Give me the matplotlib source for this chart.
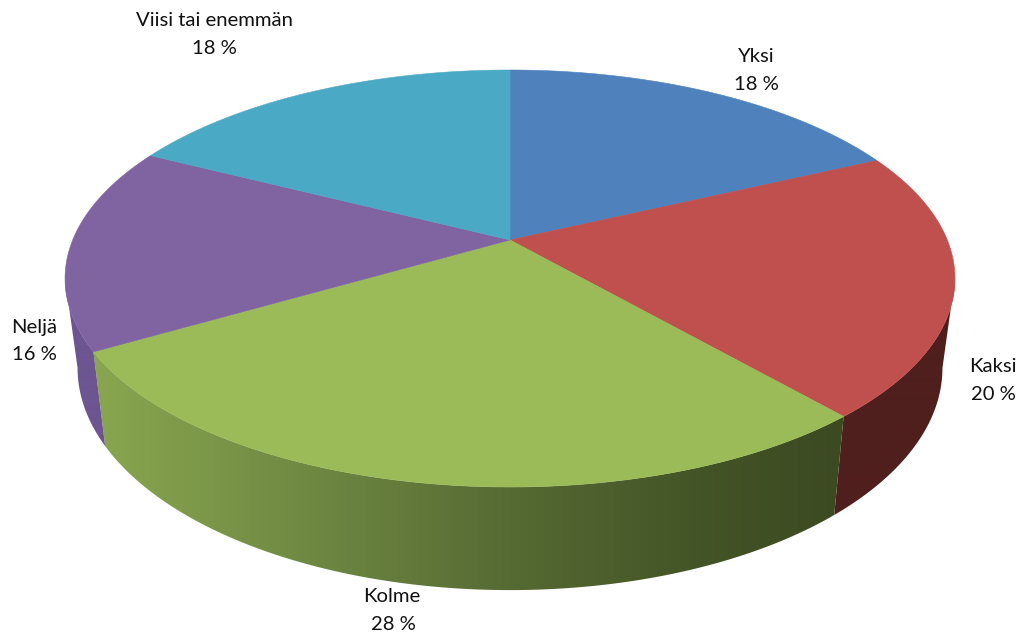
import matplotlib
matplotlib.use("Agg")
import matplotlib.pyplot as plt
import numpy as np
from matplotlib.patches import Polygon

# slice sizes, clockwise from 12 o'clock (shown labels are rounded)
categories = ["Yksi", "Kaksi", "Kolme", "Neljä", "Viisi tai enemmän"]
values = [18.0, 20.6, 28.0, 15.9, 17.5]
percent_labels = ["18 %", "20 %", "28 %", "16 %", "18 %"]

top_colors = ["#4f81bd", "#c0504d", "#9bbb59", "#8064a2", "#4aa9c4"]
# side shading per slice, left to right in pixels
side_stops = [
    [(0, "#2a4566"), (1019, "#2a4566")],
    [(0, "#4f1f1d"), (1019, "#4f1f1d")],
    [(100, "#88a64f"), (300, "#708a43"), (510, "#566a33"), (700, "#435426"), (840, "#3c4a22")],
    [(0, "#6d5591"), (1019, "#6d5591")],
    [(0, "#2f7f96"), (1019, "#2f7f96")],
]
label_pos = [(756, 57), (993, 366), (392, 597), (34, 327), (214, 21)]
pct_pos = [(756, 85), (993, 395), (393, 624), (34, 354), (214, 48)]

########## Perspective settings (pixels) ########
persp = 0.1847
cx = 510
top_y, top_a, top_b = 240, 201.4, 437.3
bot_y, bot_a, bot_b = 327, 214.5, 425.0
#################################################


def project(theta, y0, a, b):
    # theta is clockwise from the top of the pie
    u = np.sin(theta)
    v = np.cos(theta)
    w = 1 + persp * v
    return np.column_stack([cx + b * u / w, y0 - a * v / w])


def gradient_row(stops):
    # one row image running over the whole width of the figure
    xs = [s[0] for s in stops]
    rgb = np.array([matplotlib.colors.to_rgb(s[1]) for s in stops])
    grid = np.arange(1019) + 0.5
    row = np.column_stack([np.interp(grid, xs, rgb[:, i]) for i in range(3)])
    return row[np.newaxis, :, :]


fig = plt.figure(figsize=(10.19, 6.35), dpi=100)
ax = fig.add_axes([0, 0, 1, 1])

edges = np.radians(np.concatenate([[0], np.cumsum(values)]) * 360 / sum(values))

# only the front of the wall shows, between the widest points of the rim
front_start = np.arccos(-persp)
front_end = 2 * np.pi - front_start

for i in range(len(values)):
    t0 = max(edges[i], front_start)
    t1 = min(edges[i + 1], front_end)
    if t1 <= t0:
        continue
    t = np.linspace(t0, t1, 300)
    upper = project(t, top_y, top_a, top_b)
    lower = project(t, bot_y, bot_a, bot_b)
    wall = Polygon(np.vstack([upper, lower[::-1]]), closed=True, transform=ax.transData,
                   facecolor="none", edgecolor="none")
    ax.add_patch(wall)
    img = ax.imshow(gradient_row(side_stops[i]), extent=(0, 1019, 635, 0), aspect="auto",
                    interpolation="bilinear")
    img.set_clip_path(wall)

# top face
for i in range(len(values)):
    t = np.linspace(edges[i], edges[i + 1], 300)
    rim = project(t, top_y, top_a, top_b)
    pts = np.vstack([[cx, top_y], rim])
    ax.fill(pts[:, 0], pts[:, 1], color=top_colors[i], lw=0.4)

for i in range(len(categories)):
    ax.text(*label_pos[i], categories[i], ha="center", va="center", fontsize=14.6,
            family="Lato", color="#111111")
    ax.text(*pct_pos[i], percent_labels[i], ha="center", va="center", fontsize=14.6,
            family="Lato", color="#111111")

ax.set_xlim(0, 1019)
ax.set_ylim(635, 0)
ax.axis("off")

fig.savefig("out.png", dpi=100)
